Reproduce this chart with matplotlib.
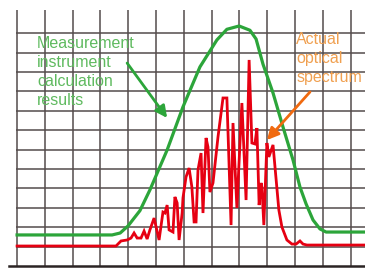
import matplotlib.pyplot as plt
import numpy as np

# Values in grid units (one grid cell = 1 on each axis)
green_x = [0, 3.42, 3.71, 3.99, 4.42, 4.78, 5.40, 5.97, 6.58, 7.19, 7.55, 7.99,
           8.38, 8.60, 8.85, 9.21, 9.57, 9.93, 10.18, 10.40, 10.65, 10.90, 11.12, 12.52]
green_y = [1.60, 1.60, 1.70, 2.06, 2.85, 3.92, 5.98, 8.20, 10.26, 11.65, 12.20, 12.37,
           12.15, 11.70, 10.40, 8.92, 7.16, 5.46, 4.07, 3.20, 2.37, 1.91, 1.75, 1.75]

red_x = [0, 3.56, 3.74, 3.96, 4.10, 4.21, 4.32, 4.46, 4.57, 4.68, 4.78, 4.93, 5.11,
         5.25, 5.32, 5.40, 5.47, 5.61, 5.68, 5.76, 5.83, 5.94, 5.97, 6.08, 6.19, 6.29,
         6.37, 6.44, 6.51, 6.62, 6.69, 6.80, 6.87, 6.94, 7.05, 7.23, 7.41, 7.55, 7.70,
         7.77, 7.91, 8.09, 8.24, 8.35, 8.45, 8.56, 8.63, 8.71, 8.78, 8.81, 8.88, 8.99,
         9.06, 9.21, 9.42, 9.53, 9.71, 9.89, 10.04, 10.18, 10.29, 10.43, 12.52]
red_y = [1.03, 1.03, 1.29, 1.34, 1.44, 1.70, 1.44, 1.44, 1.80, 1.39, 1.86, 2.47, 1.34,
         2.78, 2.73, 3.14, 1.86, 1.75, 3.56, 3.25, 1.34, 2.73, 3.51, 4.59, 5.05, 4.07,
         2.27, 2.27, 4.95, 5.82, 2.73, 6.60, 6.13, 3.81, 4.28, 6.65, 8.66, 8.66, 2.11,
         7.37, 2.99, 8.40, 3.40, 10.62, 6.34, 6.29, 7.11, 3.14, 4.28, 4.07, 2.11, 6.34,
         5.62, 6.24, 2.89, 2.01, 1.34, 1.13, 1.13, 1.29, 1.13, 1.08, 1.08]

green_label = "Measurement\ninstrument\ncalculation\nresults"
red_label = "Actual\noptical\nspectrum"

fig = plt.figure(figsize=(3.65, 2.68), dpi=100)
ax = fig.add_axes([0.0247, 0.0075, 0.9753, 0.9925])
ax.set_xlim(-0.29, 12.52)
ax.set_ylim(0, 13.71)

# grid drawn by hand so it starts at x=0 and stops below the top edge
grid_col = '#544c4c'
ax.vlines(np.arange(0, 13), 0, 13.2, color=grid_col, lw=1.1, zorder=1)
ax.hlines(np.arange(1, 13), -0.04, 12.52, color=grid_col, lw=1.1, zorder=1)

ax.plot(green_x, green_y, color='#2ca53a', lw=2.3, zorder=3)
ax.plot(red_x, red_y, color='#e60012', lw=2.0, zorder=4, solid_joinstyle='miter')

for s in ['top', 'left', 'right']:
    ax.spines[s].set_visible(False)
ax.spines['bottom'].set_color('#2b2424')
ax.spines['bottom'].set_linewidth(1.8)
ax.set_xticks([])
ax.set_yticks([])

ax.text(0.72, 11.85, green_label, color='#5fba5f', fontsize=11.5,
        family='Liberation Sans', va='top', ha='left', linespacing=1.32, zorder=5)
ax.text(10.04, 12.05, red_label, color='#f0a050', fontsize=11.5,
        family='Liberation Sans', va='top', ha='left', linespacing=1.32, zorder=5)

ax.annotate('', xy=(5.40, 7.63), xytext=(3.96, 10.46),
            arrowprops=dict(arrowstyle='-|>,head_length=0.7,head_width=0.35',
                            color='#2ca53a', lw=2.0, shrinkA=0, shrinkB=0), zorder=5)
ax.annotate('', xy=(8.99, 6.49), xytext=(10.54, 8.97),
            arrowprops=dict(arrowstyle='-|>,head_length=0.7,head_width=0.35',
                            color='#f06a10', lw=2.0, shrinkA=0, shrinkB=0), zorder=5)

fig.savefig('out.png', dpi=100)
